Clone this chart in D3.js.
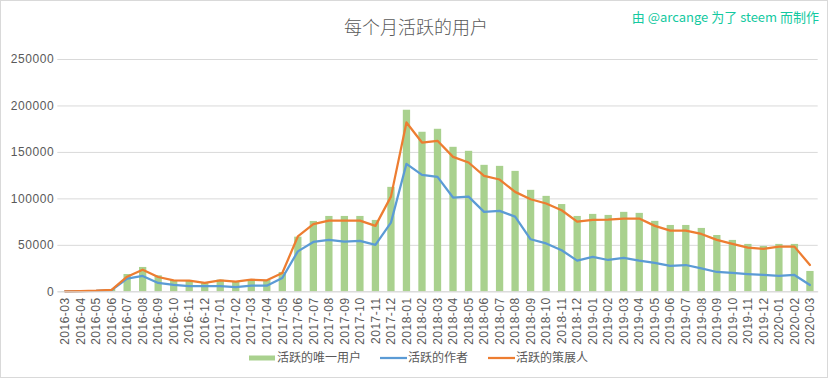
<!DOCTYPE html>
<html><head><meta charset="utf-8">
<script src="https://cdn.jsdelivr.net/npm/d3@7"></script>
<style>body{margin:0;background:#fff}svg{display:block}</style>
</head><body><svg id="c" width="833" height="379"></svg>
<script>
const months = ["2016-03","2016-04","2016-05","2016-06","2016-07","2016-08","2016-09","2016-10","2016-11","2016-12",
"2017-01","2017-02","2017-03","2017-04","2017-05","2017-06","2017-07","2017-08","2017-09","2017-10","2017-11","2017-12",
"2018-01","2018-02","2018-03","2018-04","2018-05","2018-06","2018-07","2018-08","2018-09","2018-10","2018-11","2018-12",
"2019-01","2019-02","2019-03","2019-04","2019-05","2019-06","2019-07","2019-08","2019-09","2019-10","2019-11","2019-12",
"2020-01","2020-02","2020-03"];
const uniqueUsers = [300,800,1000,2500,18600,26200,17200,12200,12200,9700,
12500,10700,12900,12200,20800,58800,75700,81100,81100,81100,76800,112400,
195400,171700,174900,155500,151200,136100,135000,129600,109200,102700,93900,81100,
83300,82200,85500,84400,75800,71400,71400,68200,60600,55300,51000,48800,
51000,51000,21900];
const authors = [0,300,500,1200,13600,16500,9000,6800,5700,5700,
5700,4600,6000,6000,14300,43000,53100,55300,53500,54200,49900,73900,
137200,125300,123200,100900,101900,85500,86500,80400,56000,51500,44200,33000,
37000,33700,35900,33000,30500,27300,28300,24700,20800,19700,18600,17600,
16500,17600,6800];
const curators = [0,300,600,1500,15700,23300,15400,11800,11500,9000,
11800,10300,12500,11800,19700,59000,72200,76100,76100,76100,70400,101900,
181700,160100,162000,144700,138600,124200,120300,107000,99100,94500,87200,75000,
76800,77200,78300,78300,70400,65300,65300,61700,55300,51000,47000,45600,
48100,48100,28300];
const yTicks = [0,50000,100000,150000,200000,250000];
const seriesNames = ["活跃的唯一用户","活跃的作者","活跃的策展人"];
const title = "每个月活跃的用户";
const credit = "由 @arcange 为了 steem 而制作";

const svg = d3.select("#c");
const W = 833, H = 379;
const m = {l:57.3, r:833-817.7, t:59, b:379-291.3};
const grey = "#595959";
const font = "'Liberation Sans', 'Noto Sans CJK SC', sans-serif";
const cjk = "'Noto Sans CJK SC', sans-serif";

svg.append("rect").attr("x",0.5).attr("y",0.5).attr("width",827).attr("height",377)
  .attr("fill","#fff").attr("stroke","#d9d9d9");

const x = d3.scaleBand().domain(months).range([m.l, W-m.r]).paddingInner(0.53).paddingOuter(0.265);
const y = d3.scaleLinear().domain([0,250000]).range([H-m.b, m.t]);
const cx = d => x(d) + x.bandwidth()/2;

// grid
const ya = svg.append("g").attr("transform",`translate(${m.l},0)`)
  .call(d3.axisLeft(y).tickValues(yTicks).tickSize(-(W-m.r-m.l)).tickFormat(d3.format("d")));
ya.select(".domain").remove();
ya.selectAll(".tick line").attr("stroke","#d9d9d9");
ya.selectAll(".tick text").attr("x",-3).attr("fill",grey).attr("font-size","12px")
  .attr("font-family",font).attr("letter-spacing","0.6px");

// bars
svg.append("g").selectAll("rect").data(months).join("rect")
  .attr("x", d => x(d)).attr("width", x.bandwidth())
  .attr("y", (d,i) => y(uniqueUsers[i])).attr("height", (d,i) => y(0)-y(uniqueUsers[i]))
  .attr("fill","#A9D18E");

// lines
const line = arr => d3.line().x((d,i)=>cx(months[i])).y(d=>y(d))(arr);
svg.append("path").attr("d", line(authors)).attr("fill","none").attr("stroke","#5B9BD5")
  .attr("stroke-width",2.25).attr("stroke-linejoin","round").attr("stroke-linecap","round");
svg.append("path").attr("d", line(curators)).attr("fill","none").attr("stroke","#ED7D31")
  .attr("stroke-width",2.25).attr("stroke-linejoin","round").attr("stroke-linecap","round");

// x axis
const xa = svg.append("g").attr("transform",`translate(0,${y(0)})`)
  .call(d3.axisBottom(x).tickSize(0).tickSizeOuter(0));
xa.select(".domain").attr("stroke","#d9d9d9");
xa.selectAll(".tick text").attr("fill",grey).attr("font-size","12px").attr("font-family",font)
  .attr("letter-spacing","0.5px")
  .attr("transform","rotate(-90)").attr("text-anchor","end").attr("x",-6).attr("y",0).attr("dy","0.35em");

// title
svg.append("text").attr("x",416).attr("y",34).attr("text-anchor","middle")
  .attr("font-family",cjk).attr("font-size","18px").attr("font-weight",300).attr("fill",grey).text(title);
svg.append("text").attr("x",819).attr("y",22).attr("text-anchor","end")
  .attr("font-family",cjk).attr("font-size","13px").attr("fill","#13c9a0").text(credit);

// legend
const ly = 358;
const lg = svg.append("g").attr("font-family",cjk).attr("font-size","12px").attr("fill",grey);
const items = [
  {x1:249,x2:275,color:"#A9D18E",w:5,tx:277,name:seriesNames[0]},
  {x1:380,x2:407,color:"#5B9BD5",w:2.25,tx:408,name:seriesNames[1]},
  {x1:488,x2:515,color:"#ED7D31",w:2.25,tx:516,name:seriesNames[2]}
];
items.forEach(it=>{
  lg.append("line").attr("x1",it.x1).attr("x2",it.x2).attr("y1",ly).attr("y2",ly)
    .attr("stroke",it.color).attr("stroke-width",it.w);
  lg.append("text").attr("x",it.tx).attr("y",ly).attr("dy","0.35em").text(it.name);
});
</script></body></html>
